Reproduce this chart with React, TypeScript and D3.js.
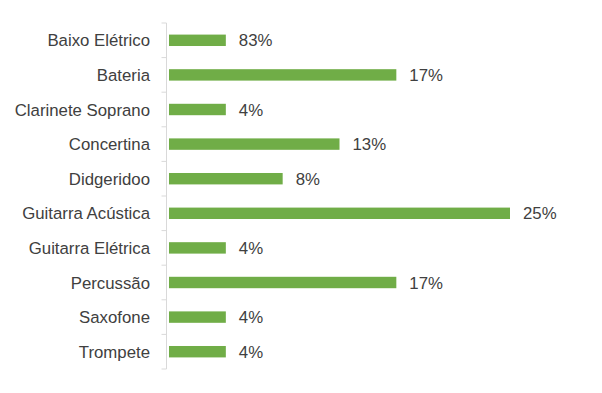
import React from 'react'
import * as d3 from 'd3'

// instrumentos e contagens (barras) + rótulos mostrados
const categories = [
  'Baixo Elétrico',
  'Bateria',
  'Clarinete Soprano',
  'Concertina',
  'Didgeridoo',
  'Guitarra Acústica',
  'Guitarra Elétrica',
  'Percussão',
  'Saxofone',
  'Trompete',
]
const counts = [1, 4, 1, 3, 2, 6, 1, 4, 1, 1]
const valueLabels = ['83%', '17%', '4%', '13%', '8%', '25%', '4%', '17%', '4%', '4%']

const W = 602
const H = 393
const font = "'Liberation Sans', Arial, sans-serif"
const fs = 16.8

export default function App() {
  const x = d3.scaleLinear().domain([0, 6]).range([169, 510])
  const y = d3
    .scaleBand<string>()
    .domain(categories)
    .range([23, 369])
    .paddingInner(0.67)
    .paddingOuter(0.335)

  const axisX = 166.5
  const step = y.step()
  const top = 23
  const ticks = d3.range(categories.length + 1).map(i => top + i * step)

  return (
    <svg
      width={W}
      height={H}
      style={{ position: 'absolute', left: 0, top: 0, background: '#fff' }}
    >
      {/* eixo vertical */}
      <line x1={axisX} x2={axisX} y1={top} y2={369} stroke="#d9d9d9" strokeWidth={1} />
      {ticks.map((t, i) => (
        <line key={i} x1={axisX - 5} x2={axisX} y1={t} y2={t} stroke="#d9d9d9" strokeWidth={1} />
      ))}

      {categories.map((c, i) => {
        const yc = (y(c) || 0) + y.bandwidth() / 2
        return (
          <g key={c}>
            <text
              x={150}
              y={yc + 6}
              textAnchor="end"
              fontFamily={font}
              fontSize={fs}
              fill="#404040"
            >
              {c}
            </text>
            <rect
              x={x(0)}
              y={y(c)}
              width={x(counts[i]) - x(0)}
              height={y.bandwidth()}
              fill="#70ad47"
            />
            <text
              x={x(counts[i]) + 13}
              y={yc + 6}
              fontFamily={font}
              fontSize={fs}
              fill="#404040"
            >
              {valueLabels[i]}
            </text>
          </g>
        )
      })}
    </svg>
  )
}
